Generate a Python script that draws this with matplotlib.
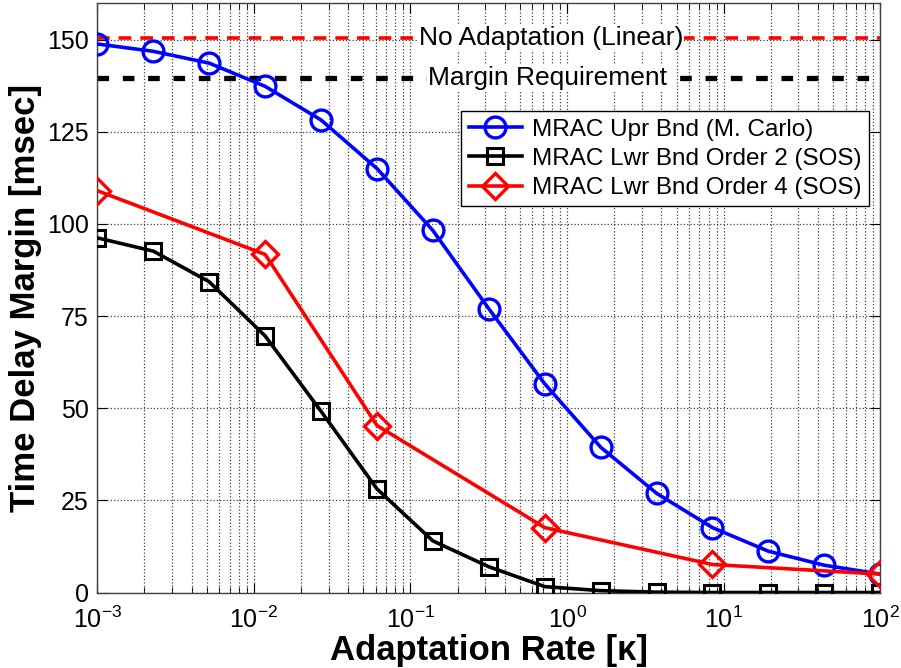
import matplotlib
matplotlib.use("Agg")
import matplotlib.pyplot as plt

plt.rcParams['font.family'] = ['Liberation Sans', 'DejaVu Sans']
plt.rcParams['mathtext.fontset'] = 'custom'
plt.rcParams['mathtext.rm'] = 'Liberation Sans'
plt.rcParams['mathtext.it'] = 'Liberation Sans:italic'
plt.rcParams['mathtext.bf'] = 'Liberation Sans:bold'

# adaptation rate samples
kappa = [1e-3, 2.28e-3, 5.18e-3, 1.18e-2, 2.68e-2, 6.11e-2, 1.39e-1, 3.16e-1,
         7.20e-1, 1.64, 3.73, 8.48, 19.3, 43.9, 100.0]
kappa_o4 = [1e-3, 1.18e-2, 6.11e-2, 7.20e-1, 8.48, 100.0]

upr_mc = [148.8, 146.8, 143.6, 137.3, 128.2, 115.0, 98.2, 77.0,
          56.6, 39.4, 26.9, 17.6, 11.2, 7.4, 5.0]
lwr_o2 = [96.2, 92.6, 84.3, 69.6, 49.2, 28.1, 14.0, 7.0,
          1.6, 0.5, 0.1, 0.0, 0.0, 0.0, 0.0]
lwr_o4 = [109.0, 91.7, 45.3, 17.6, 7.6, 5.0]

linear_margin = 150.5
requirement = 139.7

fig = plt.figure(figsize=(9.01, 6.68), dpi=100)
ax = fig.add_axes([0.108, 0.113, 0.869, 0.883])

ax.set_xscale('log')
ax.set_xlim(1e-3, 1e2)
ax.set_ylim(0, 160)

ax.grid(True, which='major', axis='both', linestyle=':', color='0.25', linewidth=0.9)
ax.grid(True, which='minor', axis='x', linestyle=':', color='0.25', linewidth=0.9)
ax.set_axisbelow(True)

ax.axhline(linear_margin, color='red', linestyle=(0, (3.5, 2.5)), linewidth=2.6, zorder=2)
ax.axhline(requirement, color='black', linestyle=(0, (2.2, 2.6)), linewidth=3.8, zorder=2)

ax.text(0.79, linear_margin, 'No Adaptation (Linear)', ha='center', va='center',
        fontsize=19, zorder=3,
        bbox=dict(facecolor='white', edgecolor='none', pad=0.5))
ax.text(0.75, requirement, 'Margin Requirement', ha='center', va='center',
        fontsize=19, zorder=3,
        bbox=dict(facecolor='white', edgecolor='none', pad=0.5))

ax.plot(kappa, upr_mc, '-o', color='blue', linewidth=2.6, markersize=15,
        markerfacecolor='none', markeredgewidth=2.4, label='MRAC Upr Bnd (M. Carlo)', zorder=4)
ax.plot(kappa, lwr_o2, '-s', color='black', linewidth=2.6, markersize=12,
        markerfacecolor='none', markeredgewidth=2.2, label='MRAC Lwr Bnd Order 2 (SOS)', zorder=4)
ax.plot(kappa_o4, lwr_o4, '-D', color='red', linewidth=2.6, markersize=13,
        markerfacecolor='none', markeredgewidth=2.4, label='MRAC Lwr Bnd Order 4 (SOS)', zorder=5)

ax.set_yticks([0, 25, 50, 75, 100, 125, 150])
ax.tick_params(axis='both', which='major', labelsize=18, direction='in', length=7,
               top=True, right=True, pad=6)
ax.tick_params(axis='x', which='major', pad=10)
ax.tick_params(axis='both', which='minor', direction='in', length=4, top=True, right=True)
ax.tick_params(axis='y', which='minor', left=False, right=False)

for s in ax.spines.values():
    s.set_linewidth(1.0)
    s.set_color('0.25')

ax.set_xlabel('Adaptation Rate [κ]', fontsize=25, fontweight='bold', labelpad=1)
ax.set_ylabel('Time Delay Margin [msec]', fontsize=25, fontweight='bold', labelpad=4)

leg = ax.legend(loc='upper right', bbox_to_anchor=(0.985, 0.816), fontsize=17.5,
                fancybox=False, framealpha=1, edgecolor='black', handlelength=2.2,
                borderpad=0.3, labelspacing=0.3, handletextpad=0.4, borderaxespad=0)
leg.get_frame().set_linewidth(1.0)

fig.savefig('out.png', dpi=100)
